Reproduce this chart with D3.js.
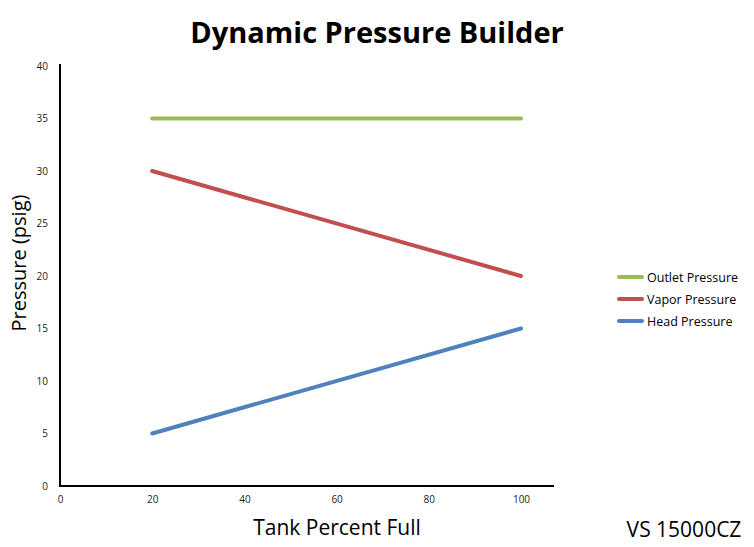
<!DOCTYPE html>
<html><head><meta charset="utf-8">
<script src="https://cdn.jsdelivr.net/npm/d3@7"></script>
<style>body{margin:0;background:#fff}svg{display:block}</style>
</head><body>
<svg id="c" width="754" height="547"></svg>
<script>
const xPct = [20, 100];
const outlet = [35, 35];
const vapor = [30, 20];
const head = [5, 15];
const seriesNames = ["Outlet Pressure", "Vapor Pressure", "Head Pressure"];
const seriesColors = ["#9BBB59", "#C0504D", "#4F81BD"];
const xTicks = [0, 20, 40, 60, 80, 100];
const yTicks = [0, 5, 10, 15, 20, 25, 30, 35, 40];

const svg = d3.select("#c");
const font = "'Open Sans', sans-serif";
const x = d3.scaleLinear().domain([0, 100]).range([60, 521]);
const y = d3.scaleLinear().domain([0, 40]).range([486, 66]);

svg.append("text").attr("x", 377).attr("y", 43).attr("text-anchor", "middle")
  .style("font-family", font).style("font-weight", "bold").style("font-size", "29px")
  .text("Dynamic Pressure Builder");

// axes
const xa = svg.append("g").attr("transform", "translate(0,486)")
  .call(d3.axisBottom(x).tickValues(xTicks).tickSize(0).tickPadding(10));
xa.select(".domain").remove();
svg.append("line").attr("x1", 59).attr("x2", 554).attr("y1", 486).attr("y2", 486)
  .attr("stroke", "#000").attr("stroke-width", 2);
const ya = svg.append("g").attr("transform", "translate(60,0)")
  .call(d3.axisLeft(y).tickValues(yTicks).tickSize(0).tickPadding(12));
ya.select(".domain").remove();
svg.append("line").attr("x1", 60).attr("x2", 60).attr("y1", 64).attr("y2", 487)
  .attr("stroke", "#000").attr("stroke-width", 2);
svg.selectAll(".tick text").style("font-family", font).style("font-size", "10px").attr("fill", "#222");

const data = [outlet, vapor, head];
const line = d3.line().x((d, i) => x(xPct[i])).y(d => y(d));
data.forEach((s, k) => {
  svg.append("path").datum(s).attr("d", line).attr("fill", "none")
    .attr("stroke", seriesColors[k]).attr("stroke-width", 4).attr("stroke-linecap", "round");
});

// legend
seriesNames.forEach((n, k) => {
  const ly = 277 + k * 22;
  svg.append("line").attr("x1", 619).attr("x2", 642).attr("y1", ly).attr("y2", ly)
    .attr("stroke", seriesColors[k]).attr("stroke-width", 4).attr("stroke-linecap", "round");
  svg.append("text").attr("x", 647).attr("y", ly + 4.5).style("font-family", font)
    .style("font-size", "12.5px").text(n);
});

svg.append("text").attr("transform", "translate(26,263) rotate(-90)").attr("text-anchor", "middle")
  .style("font-family", font).style("font-size", "20px").text("Pressure (psig)");
svg.append("text").attr("x", 337).attr("y", 535).attr("text-anchor", "middle")
  .style("font-family", font).style("font-size", "21px").text("Tank Percent Full");
svg.append("text").attr("x", 684).attr("y", 537).attr("text-anchor", "middle")
  .style("font-family", font).style("font-size", "21px").text("VS 15000CZ");
</script>
</body></html>
